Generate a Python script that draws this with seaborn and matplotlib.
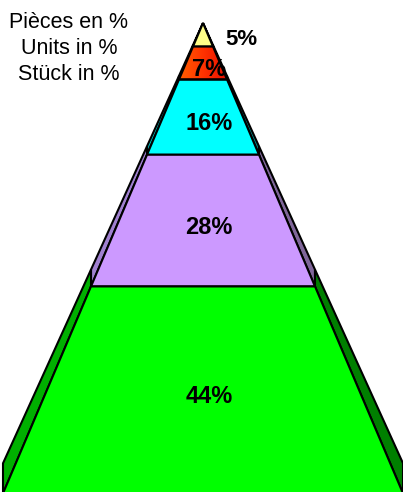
import numpy as np
import seaborn as sns
import matplotlib
matplotlib.use("Agg")
import matplotlib.pyplot as plt
from matplotlib.patches import Polygon
from matplotlib.colors import LinearSegmentedColormap

# Layer data (top to bottom)
shares = [5, 7, 16, 28, 44]
labels = ["5%", "7%", "16%", "28%", "44%"]
front_colors = ["#FFFF88", "#FF4400", "#00FFFF", "#CC99FF", "#00FF00"]
left_colors = ["#CCCC66", "#CC3300", "#00BBBB", "#A080D0", "#00B000"]
right_colors = ["#999944", "#992200", "#008888", "#7F6699", "#007F00"]
title_lines = ["Pièces en %", "Units in %", "Stück in %"]

sns.set_theme(style="white")
plt.rcParams["font.family"] = ["Liberation Sans", "DejaVu Sans"]

fig = plt.figure(figsize=(4.03, 4.92), dpi=100)
ax = fig.add_axes([0, 0, 1, 1])
xlim = (-1.015, 1.0)
ylim = (0.997, -0.049)

depth = 0.064  # vertical offset of back edge, relative to half-width
edges = np.concatenate([[0], np.cumsum(shares)]) / sum(shares)
lw = 1.5

for i in range(len(shares)):
    y0, y1 = edges[i], edges[i + 1]
    # side faces
    left = [(-y0, y0), (-y1, y1), (-y1, y1 - depth * y1), (-y0, y0 - depth * y0)]
    right = [(y0, y0), (y1, y1), (y1, y1 - depth * y1), (y0, y0 - depth * y0)]
    ax.add_patch(Polygon(left, closed=True, fc=left_colors[i], ec="black", lw=lw, zorder=1))
    ax.add_patch(Polygon(right, closed=True, fc=right_colors[i], ec="black", lw=lw, zorder=1))
    # front face
    front = [(-y0, y0), (y0, y0), (y1, y1), (-y1, y1)]
    if labels[i] == "7%":
        poly = Polygon(front, closed=True, fc="none", ec="black", lw=lw, zorder=3)
        ax.add_patch(poly)
        cmap = LinearSegmentedColormap.from_list("red", ["#FF6000", "#FF3300", "#E81000"])
        grad = np.linspace(0, 1, 200).reshape(1, -1)
        im = ax.imshow(grad, cmap=cmap, extent=(-y1, y1, y1, y0), aspect="auto", zorder=2)
        im.set_clip_path(poly)
    else:
        ax.add_patch(Polygon(front, closed=True, fc=front_colors[i], ec="black", lw=lw, zorder=2))

# value labels
for i, lab in enumerate(labels):
    y0, y1 = edges[i], edges[i + 1]
    if i == 0:
        ax.text(0.19, 0.035, lab, ha="center", va="center", fontsize=16,
                fontweight="bold", color="black", zorder=5)
    else:
        ax.text(0.03, (y0 + y1) / 2 + 0.014, lab, ha="center", va="center",
                fontsize=17, fontweight="bold", color="black", zorder=5)

# title block at top-left
for j, line in enumerate(title_lines):
    ax.text(-0.67, -0.002 + j * 0.056, line, ha="center", va="center",
            fontsize=15.5, color="black", zorder=5)

ax.set_xlim(*xlim)
ax.set_ylim(*ylim)
ax.axis("off")
fig.savefig("out.png", dpi=100)
